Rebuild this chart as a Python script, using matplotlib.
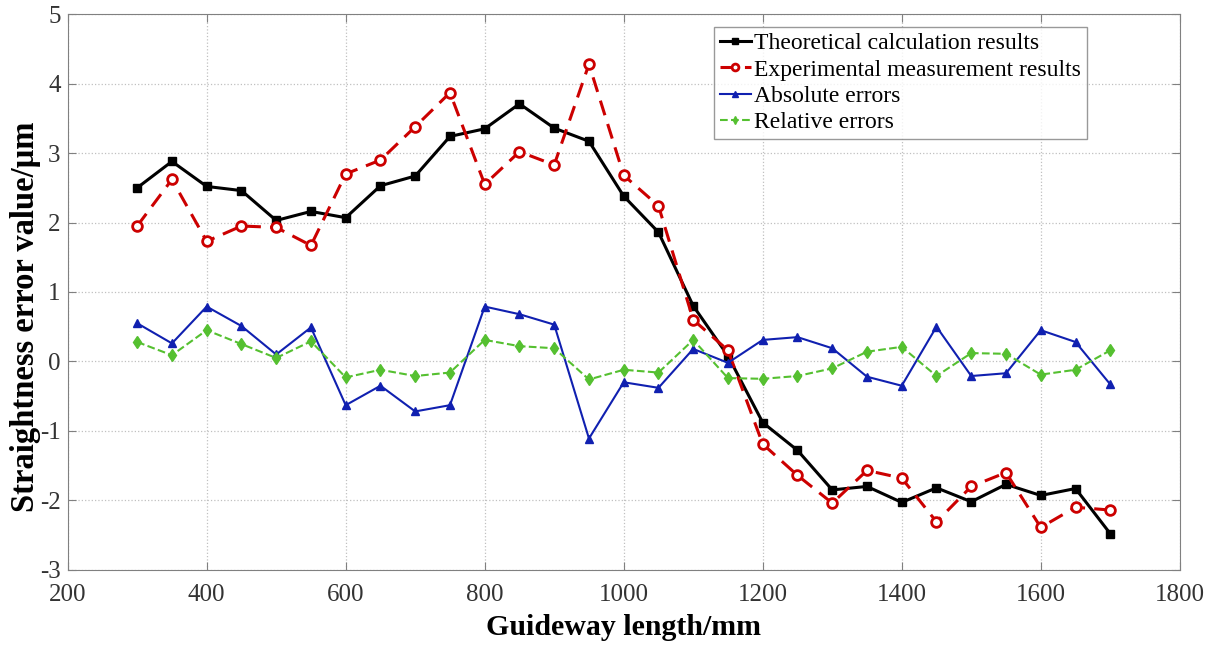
import matplotlib.pyplot as plt

x = list(range(300, 1701, 50))
theoretical = [2.50, 2.88, 2.52, 2.46, 2.03, 2.16, 2.07, 2.53, 2.67, 3.24,
               3.35, 3.71, 3.36, 3.17, 2.38, 1.86, 0.80, 0.08, -0.88, -1.28,
               -1.85, -1.80, -2.03, -1.82, -2.02, -1.77, -1.93, -1.83, -2.48]
experimental = [1.95, 2.62, 1.73, 1.95, 1.93, 1.67, 2.70, 2.90, 3.38, 3.87,
                2.55, 3.02, 2.83, 4.28, 2.68, 2.24, 0.60, 0.16, -1.19, -1.64,
                -2.04, -1.57, -1.68, -2.31, -1.80, -1.60, -2.39, -2.10, -2.14]
absolute = [0.55, 0.26, 0.79, 0.51, 0.10, 0.49, -0.63, -0.35, -0.72, -0.63,
            0.79, 0.68, 0.53, -1.11, -0.30, -0.38, 0.18, -0.02, 0.31, 0.35,
            0.19, -0.22, -0.35, 0.50, -0.21, -0.17, 0.45, 0.28, -0.33]
relative = [0.28, 0.09, 0.45, 0.25, 0.05, 0.29, -0.23, -0.12, -0.21, -0.16,
            0.31, 0.22, 0.19, -0.26, -0.12, -0.16, 0.31, -0.24, -0.25, -0.21,
            -0.10, 0.14, 0.21, -0.21, 0.12, 0.11, -0.19, -0.12, 0.16]

plt.rcParams['font.family'] = ['Liberation Serif', 'DejaVu Serif']
plt.rcParams['axes.unicode_minus'] = False

fig = plt.figure(figsize=(12.15, 6.46), dpi=100)
ax = fig.add_axes([0.0557, 0.118, 0.9153, 0.860])

ax.plot(x, theoretical, '-', color='black', lw=2.2, marker='s', ms=6,
        label='Theoretical calculation results')
ax.plot(x, experimental, '--', color='#cc0000', lw=2.2, marker='o', ms=7,
        mfc='white', mew=2, dashes=(5, 3), label='Experimental measurement results')
ax.plot(x, absolute, '-', color='#1020b0', lw=1.5, marker='^', ms=6,
        label='Absolute errors')
ax.plot(x, relative, '--', color='#55c030', lw=1.5, marker='d', ms=6,
        label='Relative errors')

ax.set_xlim(200, 1800)
ax.set_ylim(-3, 5)
ax.set_xticks(range(200, 1801, 200))
ax.set_yticks(range(-3, 6))
ax.grid(True, linestyle=':', color='#c0c0c0', lw=0.9)
ax.tick_params(direction='in', top=True, right=True, labelsize=18, length=6,
               color='#808080', labelcolor='#333333')
ax.tick_params(axis='x', pad=10)
ax.tick_params(axis='y', pad=5)
for s in ax.spines.values():
    s.set_color('#808080')

ax.set_xlabel('Guideway length/mm', fontsize=21.5, fontweight='bold', labelpad=6)
ax.set_ylabel('Straightness error value/μm', fontsize=23.5, fontweight='bold')
ax.yaxis.set_label_coords(-0.024, 0.455)

leg = ax.legend(loc='upper right', bbox_to_anchor=(0.9165, 0.977), fontsize=17,
                frameon=True, fancybox=False, handlelength=1.3, handletextpad=0.15,
                borderpad=0.25, labelspacing=0.2, borderaxespad=0, markerscale=0.7)
leg.get_frame().set_edgecolor('#808080')
leg.get_frame().set_linewidth(1.0)

fig.savefig('out.png', dpi=100)
